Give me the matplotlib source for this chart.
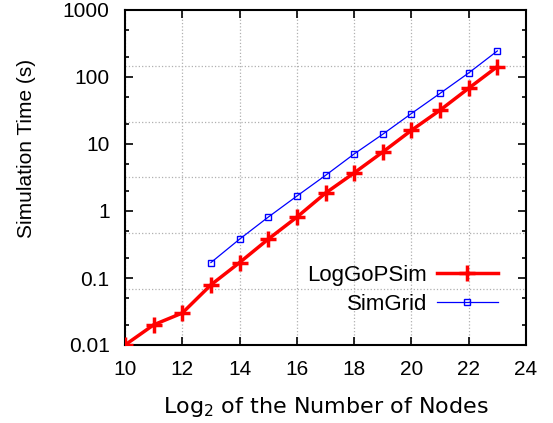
import matplotlib
matplotlib.use("Agg")
import matplotlib.pyplot as plt
from matplotlib.ticker import FixedLocator, FixedFormatter, NullFormatter

plt.rcParams['font.family'] = ['Liberation Sans', 'DejaVu Sans']

# 数据
log_nodes_lgp = [10, 11, 12, 13, 14, 15, 16, 17, 18, 19, 20, 21, 22, 23]
time_lgp = [0.01, 0.02, 0.03, 0.079, 0.17, 0.38, 0.81, 1.85, 3.7, 7.6, 16, 32, 68, 143]
log_nodes_sg = [13, 14, 15, 16, 17, 18, 19, 20, 21, 22, 23]
time_sg = [0.17, 0.38, 0.81, 1.67, 3.4, 7.1, 14, 28.5, 57, 115, 245]
y_ticks = [0.01, 0.1, 1, 10, 100, 1000]
y_labels = ['0.01', '0.1', '1', '10', '100', '1000']
x_ticks = [10, 12, 14, 16, 18, 20, 22, 24]

fig = plt.figure(figsize=(5.53, 4.23), dpi=100)
ax = fig.add_axes([125 / 553, 1 - 345 / 423, 401 / 553, 335 / 423])

# gnuplot 风格的网格（y 方向是均分的）
ax2 = ax.twinx()
ax2.set_ylim(0, 6)
ax2.set_yticks([1, 2, 3, 4, 5])
ax2.tick_params(length=0, labelright=False)
ax2.grid(True, axis='y', color='#b0b0b0', linestyle=':', linewidth=0.9)
ax2.set_zorder(0)
ax.set_zorder(1)
ax.patch.set_visible(False)
for s in ax2.spines.values():
    s.set_visible(False)

ax.plot(log_nodes_lgp, time_lgp, color='#ff0000', linewidth=2.5, marker='+',
        markersize=12, markeredgewidth=2.5, label='LogGoPSim', zorder=3)
ax.plot(log_nodes_sg, time_sg, color='#0000ff', linewidth=0.9, marker='s',
        markersize=4.5, markerfacecolor='none', markeredgewidth=1.0,
        label='SimGrid', zorder=3)

ax.set_yscale('log')
ax.set_xlim(10, 24)
ax.set_ylim(0.01, 1000)
ax.yaxis.set_major_locator(FixedLocator(y_ticks))
ax.yaxis.set_major_formatter(FixedFormatter(y_labels))
minor = []
for d in [0.01, 0.1, 1, 10, 100]:
    minor += [2 * d, 5 * d]
ax.yaxis.set_minor_locator(FixedLocator(minor))
ax.yaxis.set_minor_formatter(NullFormatter())
ax.set_xticks(x_ticks)
ax.grid(True, axis='x', color='#b0b0b0', linestyle=':', linewidth=0.9)

ax.tick_params(which='both', direction='in', top=True, right=True, labelsize=15, width=1.2)
ax.tick_params(which='major', length=6)
ax.tick_params(axis='y', which='major', pad=11)
ax.tick_params(axis='x', which='major', pad=11)
ax.tick_params(which='minor', length=3)
for s in ax.spines.values():
    s.set_linewidth(1.5)

ax.set_xlabel('Log$_2$ of the Number of Nodes', fontsize=16, family='DejaVu Sans', labelpad=11)
yl = ax.set_ylabel('Simulation Time (s)', fontsize=15)
yl.set_va('center')
ax.yaxis.set_label_coords((27 - 125) / 401, (345 - 148) / 335)

ax.legend(loc='center right', bbox_to_anchor=(498 / 553, 1 - 290 / 423),
          bbox_transform=fig.transFigure, frameon=False, fontsize=16,
          markerfirst=False, handlelength=2.75, handletextpad=0.45,
          labelspacing=0.35, borderpad=0, borderaxespad=0)

fig.savefig('out.png', dpi=100)
